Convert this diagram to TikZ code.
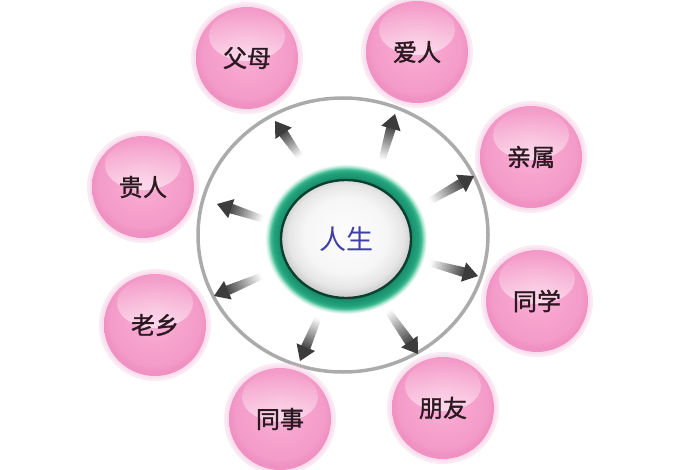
\documentclass[tikz,border=0pt]{standalone}
\usepackage{fontspec}
\newfontfamily\cjk{Noto Sans CJK SC}
\newfontfamily\cjkb[FakeBold=1.4]{Noto Sans CJK SC}
\usetikzlibrary{calc,fadings,shapes.geometric}
\definecolor{pinkA}{HTML}{F8B2D6}
\definecolor{pinkB}{HTML}{F6A2CD}
\definecolor{pinkC}{HTML}{F49BC9}
\definecolor{pinkD}{HTML}{EF91C2}
\definecolor{pinkG}{HTML}{F8D2E6}
\definecolor{labeltext}{HTML}{2B1820}
\definecolor{coretext}{HTML}{3F3FA8}
\definecolor{ringgray}{HTML}{ABABAB}
\definecolor{gdark}{HTML}{0B3F2F}
\definecolor{gdeep}{HTML}{178C68}
\definecolor{gmid}{HTML}{22A27C}
\definecolor{glight}{HTML}{3DB98F}
\definecolor{gmint}{HTML}{AEE6D2}
\definecolor{headgray}{HTML}{3C3C3C}
\definecolor{coreA}{HTML}{FDFDFD}
\definecolor{coreB}{HTML}{F6F6F6}
\definecolor{coreC}{HTML}{E6E6E6}
\definecolor{coreD}{HTML}{CFCFCF}
\pgfdeclareradialshading{pinkball}{\pgfpoint{0bp}{4bp}}{color(0bp)=(pinkA); color(14bp)=(pinkB); color(22bp)=(pinkC); color(25bp)=(pinkD); color(50bp)=(pinkD)}
\pgfdeclareradialshading{coreball}{\pgfpoint{0bp}{2bp}}{color(0bp)=(coreA); color(16bp)=(coreB); color(22bp)=(coreC); color(25bp)=(coreD); color(50bp)=(coreD)}
\pgfdeclareradialshading{greenring}{\pgfpoint{0bp}{0bp}}{color(0bp)=(gdeep); color(20bp)=(gdeep); color(22.3bp)=(gmid); color(23.2bp)=(glight); color(24.1bp)=(gmint); color(25bp)=(white); color(50bp)=(white)}
\tikzset{
  pinkbubble/.style={circle, minimum size=102pt, inner sep=0pt, shading=pinkball},
  pinklabel/.style={font=\cjkb\fontsize{24}{24}\selectfont, text=labeltext},
  corenode/.style={ellipse, minimum width=130pt, minimum height=118pt, inner sep=0pt,
    draw=gdark, line width=2.4pt, shading=coreball,
    font=\cjk\fontsize{27}{27}\selectfont, text=coretext},
  outerring/.style={draw=ringgray, line width=3.5pt},
  halo/.style={fill=pinkG, opacity=0.45},
  shine/.style={fill=white, opacity=0.55, path fading=north}
}
\newcommand\gradarrow[2]{%
  \path let \p1=($(#2)-(#1)$) in \pgfextra{%
    \pgfmathsetmacro\arang{atan2(\y1,\x1)}%
    \pgfmathsetmacro\arlen{veclen(\x1,\y1)}%
    \xdef\arang{\arang}\xdef\arlen{\arlen}};
  \begin{scope}[shift={(#1)}, rotate=\arang, x=1pt, y=1pt]
    \pgfmathsetmacro\shaftlen{\arlen-15}
    \foreach \i in {0,...,13}{
      \pgfmathsetmacro\xa{\shaftlen*\i/14}
      \pgfmathsetmacro\xb{\shaftlen*(\i+1)/14+0.5}
      \pgfmathsetmacro\pc{2+66*\i/13}
      \pgfmathsetmacro\hw{3.4+1.4*\i/13}
      \fill[black!\pc!white] (\xa,-\hw) rectangle (\xb,\hw);
    }
    \fill[headgray] (\shaftlen,-10) -- (\arlen,0) -- (\shaftlen,10) -- cycle;
  \end{scope}}
\newcommand\bubble[4]{% name, x, y, text
  \fill[halo] (#2,#3) circle (56pt);
  \fill[halo] (#2,#3) circle (53.5pt);
  \node[pinkbubble] (#1) at (#2,#3) {};
  \fill[shine] ($(#1.center)+(0,-22)$) ellipse [x radius=38pt, y radius=25pt];
  \node[pinklabel] at (#1.center) {#4};
}
\begin{document}
\begin{tikzpicture}[x=1pt,y=-1pt]
\useasboundingbox[fill=white] (0,0) rectangle (700,470);
% outer ring
\coordinate (rc) at (343,235);
\draw[outerring] (rc) ellipse [x radius=145, y radius=137];
% arrows
\coordinate (t1) at (300,157); \coordinate (h1) at (275,121);
\coordinate (t2) at (382,160); \coordinate (h2) at (395,114);
\coordinate (t3) at (430,201); \coordinate (h3) at (474,176);
\coordinate (t4) at (430,263); \coordinate (h4) at (478,276);
\coordinate (t5) at (388,311); \coordinate (h5) at (418,354);
\coordinate (t6) at (318,318); \coordinate (h6) at (300,361);
\coordinate (t7) at (262,276); \coordinate (h7) at (214,296);
\coordinate (t8) at (263,219); \coordinate (h8) at (217,204);
\gradarrow{t1}{h1}
\gradarrow{t2}{h2}
\gradarrow{t3}{h3}
\gradarrow{t4}{h4}
\gradarrow{t5}{h5}
\gradarrow{t6}{h6}
\gradarrow{t7}{h7}
\gradarrow{t8}{h8}
% center
\coordinate (c) at (346,239);
\shade[shading=greenring] (c) ellipse [x radius=81, y radius=75];
\node[corenode] (core) at (c) {人生};
% pink bubbles
\bubble{fm}{247}{58}{父母}
\bubble{ar}{417}{52}{爱人}
\bubble{qs}{531}{157}{亲属}
\bubble{tx}{537}{301}{同学}
\bubble{py}{443}{408}{朋友}
\bubble{ts}{280}{419}{同事}
\bubble{lx}{155}{325}{老乡}
\bubble{gr}{143}{187}{贵人}
\end{tikzpicture}
\end{document}
